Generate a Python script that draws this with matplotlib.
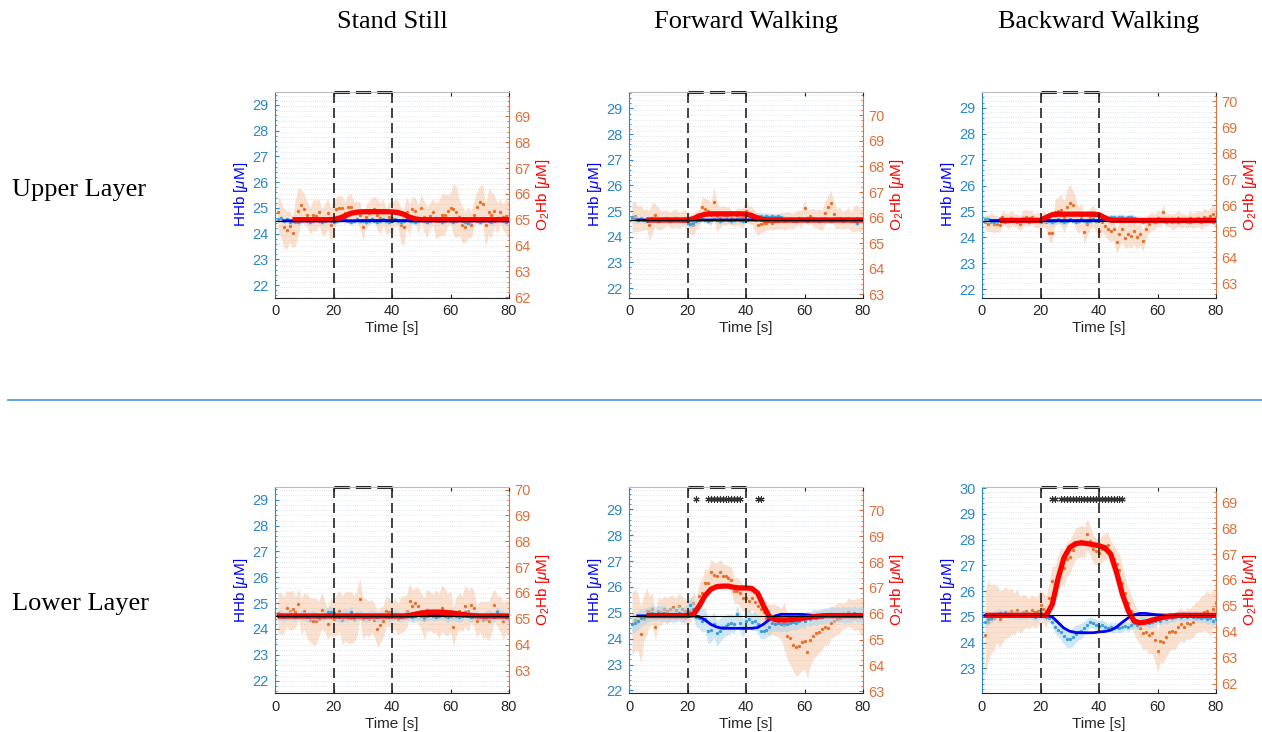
import matplotlib.pyplot as plt
import numpy as np
from matplotlib.ticker import MultipleLocator
from matplotlib.lines import Line2D

plt.rcParams['font.family'] = ['Liberation Sans', 'DejaVu Sans']
plt.rcParams['mathtext.fontset'] = 'custom'
plt.rcParams['mathtext.rm'] = 'Liberation Sans'
plt.rcParams['mathtext.it'] = 'Liberation Sans:italic'

# time of the averaged samples (1 s steps)
t = np.arange(1, 81)

col_titles = ["Stand Still", "Forward Walking", "Backward Walking"]
row_titles = ["Upper Layer", "Lower Layer"]

# ---------------- Stand Still / upper layer ----------------
ss_up_o2 = [65.3, 65.0, 64.7, 64.6, 64.75, 64.5, 64.9, 65.35, 65.55, 65.4,
            65.2, 64.95, 65.2, 65.15, 65.3, 64.9, 65.0, 65.25, 64.8, 65.05,
            65.4, 65.45, 65.45, 65.25, 65.5, 65.5, 65.3, 65.3, 65.2, 64.7,
            65.1, 65.25, 65.35, 65.4, 65.2, 65.05, 65.3, 64.95, 65.1, 65.05,
            65.3, 65.25, 64.8, 64.7, 65.3, 65.0, 65.4, 65.35, 65.0, 65.45,
            65.1, 64.9, 65.15, 65.3, 64.95, 65.05, 65.2, 65.2, 65.35, 65.45,
            65.4, 65.3, 65.1, 64.8, 64.7, 64.9, 64.8, 65.2, 65.5, 65.7,
            65.6, 64.8, 65.3, 65.2, 65.35, 65.05, 65.3, 65.1, 65.15, 64.95]
ss_up_o2_sd = [0.7, 0.75, 0.6, 0.9, 0.6, 0.5, 0.6, 0.5, 0.6, 0.65,
               0.5, 0.45, 0.5, 0.4, 0.5, 0.45, 0.5, 0.6, 0.5, 0.6,
               0.5, 0.7, 0.6, 0.5, 0.55, 0.6, 0.5, 0.7, 0.8, 0.6,
               1.0, 0.7, 0.6, 0.5, 0.6, 0.8, 0.9, 0.6, 0.5, 0.7]
ss_up_hhb = [24.55, 24.6, 24.5, 24.55, 24.45, 24.5, 24.55, 24.45, 24.5, 24.55,
             24.5, 24.45, 24.5, 24.55, 24.5, 24.45, 24.5, 24.55, 24.5, 24.45,
             24.5, 24.55, 24.6, 24.55, 24.5, 24.45, 24.5, 24.55, 24.5, 24.5,
             24.45, 24.5, 24.55, 24.5, 24.45, 24.5, 24.55, 24.5, 24.45, 24.5,
             24.55, 24.5, 24.45, 24.5, 24.55, 24.5, 24.5, 24.45, 24.5, 24.55,
             24.5, 24.45, 24.5, 24.55, 24.6, 24.5, 24.45, 24.5, 24.55, 24.5,
             24.45, 24.5, 24.55, 24.5, 24.45, 24.4, 24.5, 24.55, 24.5, 24.45,
             24.5, 24.55, 24.5, 24.45, 24.5, 24.55, 24.6, 24.5, 24.45, 24.5]
ss_up_hhb_sd = [0.12, 0.1, 0.12, 0.1, 0.11, 0.12, 0.1, 0.12, 0.11, 0.1,
                0.12, 0.1, 0.11, 0.12, 0.1, 0.12, 0.11, 0.1, 0.12, 0.1,
                0.11, 0.12, 0.1, 0.12, 0.11, 0.1, 0.12, 0.1, 0.11, 0.12,
                0.1, 0.12, 0.11, 0.1, 0.12, 0.1, 0.11, 0.12, 0.1, 0.12]
ss_up_o2_fit = [65.0, 65.0, 65.0, 65.0, 65.0, 65.0, 65.0, 65.01,
                65.06, 65.15, 65.25, 65.29, 65.31, 65.31, 65.31, 65.31, 65.31, 65.3,
                65.28, 65.21, 65.1, 65.03,
                65.0, 65.0, 65.0, 65.0, 65.0, 65.0, 65.0, 65.0, 65.0, 65.0,
                65.0, 65.0, 65.0, 65.0, 65.0, 65.0]
ss_up_hhb_fit = [24.5, 24.5, 24.5, 24.5, 24.5, 24.5, 24.5, 24.5, 24.5, 24.5,
                 24.5, 24.5, 24.5, 24.5, 24.51, 24.51, 24.51, 24.51, 24.51, 24.51,
                 24.51, 24.51, 24.5, 24.5, 24.5, 24.5, 24.5, 24.5, 24.5, 24.5,
                 24.5, 24.5, 24.5, 24.5, 24.5, 24.5, 24.5, 24.5, 24.5, 24.5]

# ---------------- Forward Walking / upper layer ----------------
fw_up_o2 = [66.0, 66.05, 65.95, 66.0, 65.9, 65.95, 65.7, 66.0, 66.1, 65.95,
            65.9, 65.95, 66.0, 65.9, 65.95, 66.0, 65.9, 65.95, 66.0, 65.82,
            65.75, 65.7, 65.9, 66.0, 66.4, 66.35, 66.27, 66.1, 66.6, 66.05,
            66.0, 66.1, 66.05, 66.1, 66.0, 65.95, 66.05, 66.0, 66.0, 66.27,
            66.1, 66.08, 65.9, 65.7, 65.75, 65.8, 65.8, 65.85, 65.8, 65.85,
            65.85, 65.9, 65.85, 65.9, 65.9, 65.85, 65.95, 66.0, 65.95, 66.36,
            66.0, 66.05, 66.0, 65.95, 65.95, 65.9, 66.2, 66.4, 66.57, 66.15,
            65.95, 66.0, 65.9, 65.95, 66.0, 65.85, 65.95, 66.0, 65.9, 65.95]
fw_up_o2_sd = [0.6, 0.5, 0.4, 0.6, 0.45, 0.35, 0.3, 0.35, 0.3, 0.35,
               0.4, 0.35, 0.4, 0.45, 0.6, 0.4, 0.35, 0.3, 0.35, 0.4,
               0.35, 0.4, 0.35, 0.3, 0.3, 0.3, 0.35, 0.3, 0.3, 0.35,
               0.3, 0.35, 0.4, 0.45, 0.5, 0.4, 0.35, 0.4, 0.5, 0.45]
fw_up_hhb = [24.75, 24.7, 24.65, 24.7, 24.65, 24.6, 24.65, 24.7, 24.65, 24.6,
             24.65, 24.7, 24.65, 24.6, 24.65, 24.7, 24.65, 24.6, 24.6, 24.55,
             24.5, 24.55, 24.6, 24.65, 24.7, 24.65, 24.6, 24.65, 24.7, 24.65,
             24.6, 24.65, 24.7, 24.65, 24.6, 24.65, 24.7, 24.65, 24.6, 24.65,
             24.7, 24.7, 24.75, 24.8, 24.8, 24.75, 24.8, 24.75, 24.8, 24.75,
             24.8, 24.75, 24.7, 24.65, 24.7, 24.65, 24.6, 24.65, 24.7, 24.65,
             24.6, 24.65, 24.7, 24.65, 24.6, 24.65, 24.7, 24.65, 24.6, 24.65,
             24.7, 24.65, 24.6, 24.65, 24.7, 24.65, 24.6, 24.55, 24.65, 24.7]
fw_up_hhb_sd = [0.15, 0.12, 0.1, 0.12, 0.1, 0.11, 0.1, 0.12, 0.1, 0.12,
                0.15, 0.12, 0.1, 0.12, 0.1, 0.11, 0.1, 0.12, 0.1, 0.12,
                0.12, 0.14, 0.15, 0.14, 0.12, 0.1, 0.12, 0.1, 0.11, 0.1,
                0.12, 0.1, 0.12, 0.1, 0.11, 0.1, 0.12, 0.1, 0.12, 0.1]
fw_up_o2_fit = [65.91, 65.91, 65.91, 65.91, 65.91, 65.91, 65.91, 65.91,
                65.96, 66.07, 66.13, 66.15, 66.15, 66.15, 66.15, 66.15, 66.15,
                66.14, 66.08, 65.98, 65.92,
                65.91, 65.91, 65.91, 65.91, 65.91, 65.91, 65.91, 65.91, 65.91,
                65.91, 65.91, 65.91, 65.91, 65.91, 65.91, 65.91, 65.91]
fw_up_hhb_fit = [24.65, 24.65, 24.65, 24.65, 24.65, 24.65, 24.65, 24.65, 24.65, 24.65,
                 24.65, 24.65, 24.65, 24.65, 24.65, 24.65, 24.65, 24.65, 24.65, 24.65,
                 24.65, 24.65, 24.65, 24.67, 24.67, 24.67, 24.67, 24.65, 24.65, 24.65,
                 24.65, 24.65, 24.65, 24.65, 24.65, 24.65, 24.65, 24.65, 24.65, 24.65]

# ---------------- Backward Walking / upper layer ----------------
bw_up_o2 = [65.35, 65.3, 65.35, 65.3, 65.3, 65.25, 65.55, 65.45, 65.4, 65.5,
            65.45, 65.4, 65.3, 65.5, 65.55, 65.5, 65.55, 65.4, 65.45, 65.4,
            65.5, 65.35, 64.95, 64.95, 65.73, 65.8, 65.83, 65.55, 65.92, 66.1,
            66.0, 65.7, 65.4, 65.6, 64.96, 65.3, 65.5, 65.6, 65.4, 65.0,
            65.34, 65.2, 65.1, 65.0, 65.1, 64.6, 64.9, 65.1, 64.75, 64.9,
            64.83, 65.0, 64.77, 64.9, 64.64, 65.1, 65.3, 65.4, 65.35, 65.5,
            65.47, 65.73, 65.4, 65.45, 65.35, 65.4, 65.5, 65.4, 65.45, 65.35,
            65.5, 65.4, 65.45, 65.5, 65.4, 65.55, 65.5, 65.6, 65.66, 65.5]
bw_up_o2_sd = [0.3, 0.35, 0.3, 0.25, 0.3, 0.25, 0.3, 0.3, 0.25, 0.3,
               0.3, 0.35, 0.5, 0.6, 0.7, 0.6, 0.5, 0.45, 0.4, 0.4,
               0.35, 0.4, 0.45, 0.5, 0.45, 0.5, 0.45, 0.4, 0.35, 0.3,
               0.3, 0.25, 0.3, 0.3, 0.25, 0.3, 0.3, 0.35, 0.3, 0.35]
bw_up_hhb = [24.7, 24.7, 24.65, 24.6, 24.65, 24.7, 24.65, 24.6, 24.65, 24.7,
             24.65, 24.6, 24.65, 24.7, 24.65, 24.6, 24.65, 24.7, 24.65, 24.6,
             24.65, 24.7, 24.65, 24.6, 24.65, 24.7, 24.65, 24.6, 24.65, 24.7,
             24.65, 24.6, 24.65, 24.7, 24.65, 24.6, 24.65, 24.7, 24.65, 24.7,
             24.72, 24.78, 24.75, 24.8, 24.78, 24.75, 24.8, 24.78, 24.75, 24.78,
             24.8, 24.75, 24.7, 24.65, 24.6, 24.65, 24.7, 24.65, 24.6, 24.65,
             24.7, 24.65, 24.6, 24.65, 24.7, 24.65, 24.6, 24.65, 24.7, 24.65,
             24.6, 24.65, 24.7, 24.65, 24.6, 24.65, 24.7, 24.65, 24.6, 24.65]
bw_up_hhb_sd = [0.12, 0.1, 0.11, 0.1, 0.12, 0.1, 0.11, 0.1, 0.12, 0.1,
                0.12, 0.14, 0.15, 0.14, 0.12, 0.1, 0.11, 0.1, 0.12, 0.1,
                0.12, 0.1, 0.11, 0.12, 0.1, 0.12, 0.1, 0.11, 0.1, 0.12,
                0.1, 0.11, 0.1, 0.12, 0.1, 0.11, 0.1, 0.12, 0.1, 0.12]
bw_up_o2_fit = [65.42, 65.42, 65.42, 65.42, 65.42, 65.42, 65.42, 65.42,
                65.54, 65.64, 65.66, 65.66, 65.66, 65.66, 65.66, 65.66, 65.66,
                65.64, 65.52, 65.43,
                65.42, 65.42, 65.42, 65.42, 65.42, 65.42, 65.42, 65.42, 65.42,
                65.42, 65.42, 65.42, 65.42, 65.42, 65.42, 65.42, 65.42, 65.42]
bw_up_hhb_fit = [24.65, 24.65, 24.65, 24.65, 24.65, 24.65, 24.65, 24.65, 24.65, 24.65,
                 24.65, 24.65, 24.65, 24.65, 24.65, 24.65, 24.65, 24.65, 24.65, 24.65,
                 24.65, 24.65, 24.67, 24.67, 24.67, 24.67, 24.67, 24.65, 24.65, 24.65,
                 24.65, 24.65, 24.65, 24.65, 24.65, 24.65, 24.65, 24.65, 24.65, 24.65]

# ---------------- Stand Still / lower layer ----------------
ss_lo_o2 = [65.24, 65.2, 65.15, 65.4, 65.3, 65.37, 65.25, 65.56, 65.1, 65.3,
            65.1, 64.95, 64.9, 64.9, 65.0, 65.33, 65.1, 64.8, 65.1, 65.0,
            65.15, 65.3, 64.95, 65.1, 65.05, 65.05, 65.0, 65.2, 65.78, 65.0,
            65.1, 65.0, 65.1, 64.95, 64.6, 64.75, 64.9, 65.3, 65.25, 65.1,
            65.2, 65.0, 65.15, 65.2, 65.3, 65.7, 65.5, 65.6, 65.5, 65.3,
            65.0, 65.35, 65.3, 65.2, 65.3, 65.1, 65.4, 65.3, 65.15, 65.3,
            64.7, 65.1, 65.3, 65.2, 65.5, 65.3, 65.55, 65.4, 64.9, 65.1,
            64.95, 65.0, 64.9, 65.2, 65.55, 65.3, 65.2, 64.9, 65.1, 65.0]
ss_lo_o2_sd = [0.8, 0.7, 0.75, 0.6, 0.7, 0.85, 0.9, 0.7, 0.6, 0.7,
               0.8, 0.95, 1.0, 0.9, 0.8, 0.7, 0.65, 0.7, 0.6, 0.55,
               0.6, 0.7, 0.65, 0.6, 0.7, 0.8, 0.75, 0.85, 0.9, 0.8,
               0.75, 0.7, 0.8, 0.7, 0.6, 0.7, 0.75, 0.6, 0.7, 0.65]
ss_lo_hhb = [24.5, 24.55, 24.45, 24.5, 24.55, 24.5, 24.45, 24.5, 24.55, 24.5,
             24.45, 24.5, 24.55, 24.5, 24.45, 24.5, 24.55, 24.65, 24.65, 24.6,
             24.5, 24.45, 24.5, 24.55, 24.5, 24.65, 24.45, 24.5, 24.55, 24.5,
             24.45, 24.5, 24.55, 24.5, 24.45, 24.5, 24.55, 24.5, 24.45, 24.5,
             24.55, 24.5, 24.45, 24.5, 24.55, 24.5, 24.45, 24.5, 24.55, 24.5,
             24.45, 24.5, 24.55, 24.5, 24.45, 24.5, 24.55, 24.5, 24.45, 24.5,
             24.55, 24.5, 24.45, 24.5, 24.65, 24.5, 24.45, 24.5, 24.55, 24.5,
             24.45, 24.5, 24.55, 24.5, 24.45, 24.65, 24.55, 24.5, 24.45, 24.5]
ss_lo_hhb_sd = [0.2, 0.18, 0.2, 0.15, 0.18, 0.2, 0.18, 0.15, 0.2, 0.22,
                0.2, 0.25, 0.22, 0.2, 0.18, 0.2, 0.18, 0.2, 0.15, 0.18,
                0.2, 0.18, 0.2, 0.22, 0.2, 0.18, 0.2, 0.15, 0.18, 0.2,
                0.22, 0.2, 0.18, 0.2, 0.15, 0.18, 0.2, 0.22, 0.2, 0.18]
ss_lo_o2_fit = [65.11, 65.11, 65.11, 65.11, 65.11, 65.11, 65.11, 65.11, 65.11, 65.11,
                65.11, 65.11, 65.11, 65.11, 65.11, 65.11, 65.11, 65.11, 65.11, 65.11,
                65.11, 65.11, 65.11,
                65.13, 65.18, 65.22, 65.25, 65.26, 65.26, 65.25, 65.23, 65.2, 65.17,
                65.14, 65.12,
                65.11, 65.11, 65.11, 65.11, 65.11, 65.11]
ss_lo_hhb_fit = [24.5, 24.5, 24.5, 24.5, 24.5, 24.5, 24.5, 24.5, 24.5, 24.5,
                 24.5, 24.5, 24.5, 24.5, 24.5, 24.5, 24.5, 24.5, 24.5, 24.5,
                 24.5, 24.5, 24.5, 24.5, 24.5, 24.53, 24.53, 24.53, 24.53, 24.53,
                 24.53, 24.53, 24.5, 24.5, 24.5, 24.5, 24.5, 24.5, 24.5, 24.5, 24.5]

# ---------------- Forward Walking / lower layer ----------------
fw_lo_o2 = [65.6, 65.75, 65.7, 65.2, 65.8, 66.1, 66.1, 66.2, 65.5, 66.1,
            66.05, 66.2, 66.1, 66.2, 66.25, 66.15, 66.3, 66.2, 66.1, 66.05,
            66.1, 66.4, 66.1, 66.7, 66.8, 67.2, 67.2, 67.6, 67.5, 67.45,
            67.6, 67.45, 67.45, 67.4, 67.3, 66.9, 66.9, 66.8, 66.6, 66.6,
            66.5, 66.6, 66.45, 66.3, 66.2, 66.05, 65.85, 65.75, 65.8, 65.75,
            65.7, 65.6, 65.55, 65.15, 65.05, 64.8, 64.7, 64.75, 64.9, 64.95,
            64.5, 65.0, 65.15, 65.25, 65.3, 65.4, 65.5, 65.45, 65.65, 65.7,
            65.8, 65.85, 65.9, 65.95, 66.05, 66.0, 65.95, 66.0, 65.9, 65.95]
fw_lo_o2_sd = [1.2, 1.1, 0.9, 0.6, 0.55, 0.5, 0.5, 0.45, 0.5, 0.5,
               0.45, 0.5, 0.55, 0.5, 0.5, 0.5, 0.45, 0.5, 0.5, 0.5,
               0.45, 0.5, 0.55, 0.6, 0.6, 0.6, 0.9, 1.0, 1.1, 1.1,
               1.0, 0.9, 0.8, 0.7, 0.6, 0.6, 0.5, 0.55, 0.6, 0.7]
fw_lo_hhb = [24.55, 24.6, 24.7, 24.8, 24.85, 24.9, 24.95, 25.0, 24.95, 25.0,
             24.95, 25.0, 24.9, 24.95, 24.9, 24.95, 25.0, 24.9, 24.95, 25.05,
             25.3, 25.15, 24.85, 24.8, 24.7, 24.75, 24.3, 24.35, 24.55, 24.2,
             24.3, 24.45, 24.5, 24.55, 24.6, 24.55, 24.95, 24.6, 24.4, 24.7,
             24.75, 24.65, 24.7, 24.55, 24.3, 24.3, 24.35, 24.45, 24.6, 24.55,
             24.6, 24.55, 24.6, 24.55, 24.6, 24.65, 24.6, 24.7, 24.75, 24.7,
             24.8, 24.75, 24.85, 24.8, 24.85, 24.85, 24.9, 24.9, 24.95, 24.9,
             24.95, 24.9, 24.95, 24.9, 24.95, 24.9, 25.0, 24.9, 24.95, 24.9]
fw_lo_hhb_sd = [0.35, 0.35, 0.3, 0.3, 0.28, 0.3, 0.28, 0.3, 0.3, 0.3,
                0.35, 0.4, 0.45, 0.5, 0.5, 0.45, 0.4, 0.35, 0.35, 0.35,
                0.35, 0.35, 0.3, 0.3, 0.3, 0.3, 0.3, 0.28, 0.3, 0.3,
                0.28, 0.3, 0.28, 0.3, 0.3, 0.28, 0.3, 0.3, 0.28, 0.3]
fw_lo_o2_fit = [65.93, 65.93, 65.93, 65.93, 65.93, 65.93, 65.93, 65.93,
                65.97, 66.3, 66.7, 66.95, 67.05, 67.07, 67.07, 67.02, 67.0, 67.0,
                66.98, 66.8, 66.3, 65.88, 65.77, 65.76, 65.76, 65.78, 65.8, 65.84,
                65.87, 65.9, 65.92,
                65.93, 65.93, 65.93, 65.93, 65.93, 65.93, 65.93]
fw_lo_hhb_fit = [24.88, 24.88, 24.88, 24.88, 24.88, 24.88, 24.88, 24.88, 24.88, 24.88,
                 24.88, 24.85, 24.72, 24.55, 24.45, 24.4, 24.4, 24.4, 24.4, 24.4,
                 24.4, 24.43, 24.56, 24.74, 24.88, 24.94, 24.94, 24.94, 24.94, 24.93,
                 24.91, 24.89, 24.88, 24.88, 24.88, 24.88, 24.88, 24.88, 24.88, 24.88]
fw_lo_stars = [23, 27, 28, 29, 30, 31, 32, 33, 34, 35, 36, 37, 38, 44, 45]

# ---------------- Backward Walking / lower layer ----------------
bw_lo_o2 = [63.9, 64.4, 64.5, 64.55, 64.7, 64.5, 64.6, 64.75, 64.7, 64.8,
            64.7, 64.85, 64.65, 64.75, 64.8, 64.7, 64.85, 64.75, 64.8, 65.05,
            64.9, 64.8, 65.3, 65.95, 65.85, 66.2, 66.55, 66.45, 66.8, 66.9,
            67.15, 67.4, 67.45, 67.5, 67.45, 67.76, 67.5, 67.2, 67.1, 67.05,
            67.2, 67.3, 67.35, 67.0, 66.8, 66.6, 66.4, 65.9, 65.5, 65.1,
            64.8, 64.5, 64.3, 64.15, 63.95, 64.0, 63.9, 63.95, 63.7, 63.25,
            63.65, 63.6, 63.8, 64.0, 64.05, 64.0, 64.2, 64.3, 64.2, 64.35,
            64.3, 64.4, 64.55, 64.6, 64.7, 64.75, 64.8, 64.65, 64.9, 65.1]
bw_lo_o2_sd = [1.6, 1.3, 1.1, 1.0, 0.9, 0.8, 0.7, 0.6, 0.6, 0.6,
               0.6, 0.6, 0.7, 0.7, 0.65, 0.6, 0.6, 0.6, 0.55, 0.5,
               0.5, 0.5, 0.55, 0.6, 0.6, 0.6, 0.6, 0.65, 0.75, 0.8,
               0.8, 0.75, 0.7, 0.65, 0.6, 0.6, 0.6, 0.7, 0.8, 0.75]
bw_lo_hhb = [24.8, 24.9, 24.95, 25.05, 25.1, 25.15, 25.1, 25.15, 25.1, 25.1,
             25.05, 25.1, 25.05, 25.1, 25.05, 25.1, 25.05, 25.0, 25.05, 25.1,
             25.05, 25.0, 24.95, 24.8, 24.6, 24.5, 24.4, 24.25, 24.15, 24.15,
             24.2, 24.35, 24.4, 24.45, 24.55, 24.7, 24.8, 24.75, 24.7, 24.65,
             24.7, 24.6, 24.55, 24.6, 24.55, 24.6, 24.55, 24.6, 24.65, 24.6,
             24.7, 24.75, 24.7, 24.8, 24.85, 24.8, 24.75, 24.8, 24.85, 24.9,
             24.85, 24.95, 24.9, 25.0, 24.95, 25.0, 25.05, 25.0, 25.05, 25.0,
             25.05, 25.0, 25.05, 25.0, 24.95, 25.0, 24.9, 24.95, 24.85, 24.9]
bw_lo_hhb_sd = [0.25, 0.2, 0.18, 0.15, 0.15, 0.15, 0.18, 0.15, 0.15, 0.15,
                0.15, 0.18, 0.25, 0.3, 0.35, 0.35, 0.3, 0.25, 0.2, 0.2,
                0.2, 0.18, 0.2, 0.2, 0.18, 0.2, 0.2, 0.18, 0.2, 0.2,
                0.18, 0.2, 0.18, 0.18, 0.2, 0.18, 0.2, 0.2, 0.2, 0.2]
bw_lo_o2_fit = [64.64, 64.64, 64.64, 64.64, 64.64, 64.64, 64.64, 64.64, 64.64, 64.64,
                64.64, 64.64,
                65.05, 66.05, 66.85, 67.25, 67.4, 67.43, 67.4, 67.36, 67.32, 67.24,
                67.0, 66.3, 65.45, 64.82, 64.42, 64.35, 64.38, 64.45, 64.51, 64.57,
                64.61, 64.63,
                64.64, 64.64, 64.64, 64.64, 64.64, 64.64, 64.64]
bw_lo_hhb_fit = [25.05, 25.05, 25.05, 25.05, 25.05, 25.05, 25.05, 25.05, 25.05, 25.05,
                 25.05, 25.05,
                 25.0, 24.78, 24.56, 24.44, 24.39, 24.38, 24.38, 24.38, 24.41, 24.43,
                 24.48, 24.6, 24.79, 24.96, 25.08, 25.13, 25.13, 25.1, 25.08, 25.07,
                 25.06, 25.05,
                 25.05, 25.05, 25.05, 25.05, 25.05, 25.05, 25.05]
bw_lo_stars = [24, 25, 27, 28, 29, 30, 31, 32, 33, 34, 35, 36, 37, 38, 39, 40,
               41, 42, 43, 44, 45, 46, 47, 48]

# sampling times of the fitted curves
fit_t_6 = np.arange(6, 81, 2)
fit_t_3 = np.r_[3, np.arange(4, 81, 2)]
fit_t_1 = np.r_[1, np.arange(2, 81, 2)]

# (o2, o2_sd, hhb, hhb_sd, o2_fit, o2_fit_t, hhb_fit, hhb_fit_t,
#  hhb_base, o2_base, hhb_ylim, o2_ylim, stars, star_y)
panels = [
    (ss_up_o2, ss_up_o2_sd, ss_up_hhb, ss_up_hhb_sd, ss_up_o2_fit, fit_t_6,
     ss_up_hhb_fit, fit_t_3, 24.5, 65.0, (21.52, 29.52), (61.99, 69.96), None, None),
    (fw_up_o2, fw_up_o2_sd, fw_up_hhb, fw_up_hhb_sd, fw_up_o2_fit, fit_t_6,
     fw_up_hhb_fit, fit_t_3, 24.65, 65.91, (21.63, 29.66), (62.88, 70.93), None, None),
    (bw_up_o2, bw_up_o2_sd, bw_up_hhb, bw_up_hhb_sd, bw_up_o2_fit, fit_t_6,
     bw_up_hhb_fit, fit_t_3, 24.65, 65.42, (21.68, 29.63), (62.46, 70.37), None, None),
    (ss_lo_o2, ss_lo_o2_sd, ss_lo_hhb, ss_lo_hhb_sd, ss_lo_o2_fit, fit_t_1,
     ss_lo_hhb_fit, fit_t_1, 24.5, 65.11, (21.52, 29.49), (62.13, 70.10), None, None),
    (fw_lo_o2, fw_lo_o2_sd, fw_lo_hhb, fw_lo_hhb_sd, fw_lo_o2_fit, fit_t_6,
     fw_lo_hhb_fit, fit_t_3, 24.88, 65.93, (21.9, 29.86), (62.93, 70.91), fw_lo_stars, 29.4),
    (bw_lo_o2, bw_lo_o2_sd, bw_lo_hhb, bw_lo_hhb_sd, bw_lo_o2_fit, fit_t_1,
     bw_lo_hhb_fit, fit_t_1, 25.05, 64.64, (22.04, 30.04), (61.65, 69.58), bw_lo_stars, 29.58),
]

W, H = 1262, 732
lefts = [275, 629, 982]
tops = [91.5, 487]
aw, ah = 234, 206

blue_tick = '#2b88c8'
orange_tick = '#e0703a'
dark = '#262626'

fig = plt.figure(figsize=(W / 100, H / 100), dpi=100)

for i, p in enumerate(panels):
    (o2, o2_sd, hhb, hhb_sd, o2_fit, o2_ft, hhb_fit, hhb_ft,
     hhb_base, o2_base, ylim_l, ylim_r, stars, star_y) = p
    o2 = np.array(o2)
    hhb = np.array(hhb)
    o2_hw = np.repeat(o2_sd, 2)
    hhb_hw = np.repeat(hhb_sd, 2)

    left = lefts[i % 3]
    top = tops[i // 3]
    ax = fig.add_axes([left / W, 1 - (top + ah) / H, aw / W, ah / H])
    ax2 = ax.twinx()
    # right axis underneath, left axis on top (transparent)
    ax.set_zorder(ax2.get_zorder() + 1)
    ax.patch.set_visible(False)
    ax2.patch.set_visible(True)
    ax2.patch.set_facecolor('white')

    ax.set_xlim(0, 80)
    ax.set_ylim(*ylim_l)
    ax2.set_ylim(*ylim_r)

    # grid on the bottom axes
    ax2.xaxis.set_major_locator(MultipleLocator(20))
    ax2.xaxis.set_minor_locator(MultipleLocator(4))
    ax2.yaxis.set_major_locator(MultipleLocator(1))
    ax2.yaxis.set_minor_locator(MultipleLocator(0.2))
    ax2.set_axisbelow(True)
    ax2.grid(which='major', axis='x', color='#dadada', lw=0.8)
    ax2.grid(which='major', axis='y', color='#d4dde6', lw=0.6, ls=':')
    ax2.grid(which='minor', color='#d4dde6', lw=0.6, ls=':')

    # O2Hb band and samples
    ax2.fill_between(t, o2 - o2_hw, o2 + o2_hw, color='#f6c29e', alpha=0.5, lw=0)
    ax2.plot(t, o2, 'o', ms=2.4, color='#e8702a', mec='none')

    # HHb band, samples and fit
    ax.fill_between(t, hhb - hhb_hw, hhb + hhb_hw, color='#a8d5ef', alpha=0.55, lw=0)
    ax.plot(t, hhb, 'o', ms=2.4, color='#3d9fd6', mec='none')
    ax.plot(hhb_ft, hhb_fit, color='#0000ff', lw=2.0)
    # O2Hb fit on top, in right-axis units
    ax.plot(o2_ft, o2_fit, color='#ff0000', lw=3.8, solid_capstyle='butt',
            transform=ax2.transData)
    ax.axhline(hhb_base, color='black', lw=0.8)

    # task window
    ax.axvline(20, color='#222222', lw=1.2, ls=(0, (6, 3)))
    ax.axvline(40, color='#222222', lw=1.2, ls=(0, (6, 3)))
    ax.plot([20, 40], [1, 1], color='#222222', lw=2.2, ls=(0, (5, 2)),
            transform=ax.get_xaxis_transform(), clip_on=False)

    if stars is not None:
        ax.plot(stars, [star_y] * len(stars), ls='none', marker=(6, 2, 0),
                ms=4.5, mew=0.8, color='#333333')

    # axes styling
    ax.xaxis.set_major_locator(MultipleLocator(20))
    ax.yaxis.set_major_locator(MultipleLocator(1))
    ax.yaxis.set_minor_locator(MultipleLocator(0.2))
    ax.tick_params(axis='x', which='major', direction='in', length=3, color=dark,
                   labelcolor=dark, labelsize=10.5, pad=5, top=True)
    ax.tick_params(axis='x', which='minor', length=0)
    ax.tick_params(axis='y', which='major', direction='in', length=3,
                   color=blue_tick, labelcolor=blue_tick, labelsize=10.5, pad=4.5)
    ax.tick_params(axis='y', which='minor', direction='in', length=1.5,
                   color=blue_tick)
    ax2.tick_params(axis='y', which='major', direction='in', length=3,
                    color=orange_tick, labelcolor=orange_tick, labelsize=10.5, pad=3.5)
    ax2.tick_params(axis='y', which='minor', direction='in', length=1.5,
                    color=orange_tick)
    ax2.tick_params(axis='x', which='both', bottom=False, top=False,
                    labelbottom=False)

    ax.spines['left'].set_color(blue_tick)
    ax.spines['right'].set_visible(False)
    ax.spines['top'].set_color('#bbbbbb')
    ax.spines['bottom'].set_color(dark)
    for s in ['left', 'top', 'bottom']:
        ax2.spines[s].set_visible(False)
    ax2.spines['right'].set_color(orange_tick)

    ax.set_xlabel('Time [s]', fontsize=11, color=dark, labelpad=2)
    ax.set_ylabel(r'HHb [$\mu$M]', fontsize=11, color='#0000ff', labelpad=2)
    ax2.set_ylabel(r'O$_2$Hb [$\mu$M]', fontsize=11, color='#ff0000', labelpad=3)

    if i < 3:
        fig.text((left + aw / 2) / W, 1 - 22 / H, col_titles[i],
                 family='Liberation Serif', fontsize=19, ha='center', va='center')

fig.text(12 / W, 1 - 190 / H, row_titles[0], family='Liberation Serif',
         fontsize=19, ha='left', va='center')
fig.text(12 / W, 1 - 604 / H, row_titles[1], family='Liberation Serif',
         fontsize=19, ha='left', va='center')

# separator between the two layers
fig.add_artist(Line2D([8 / W, 1], [1 - 400 / H, 1 - 400 / H], color='#5b9bd5', lw=1.3))

fig.savefig('out.png', dpi=100)
